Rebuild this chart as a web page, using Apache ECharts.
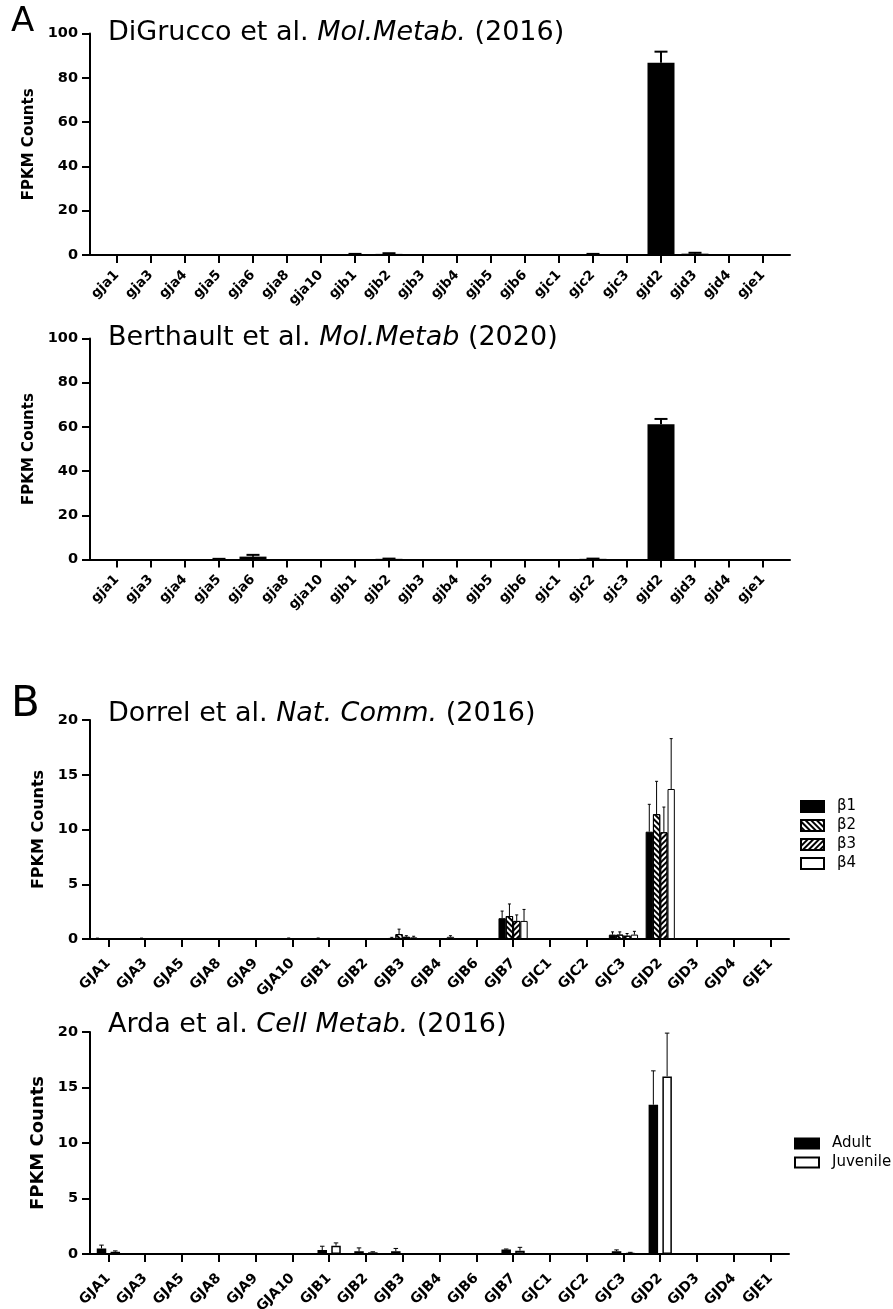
<!DOCTYPE html>
<html>
<head>
<meta charset="utf-8">
<script src="https://cdn.jsdelivr.net/npm/echarts@6/dist/echarts.min.js"></script>
<style>
  html, body { margin: 0; padding: 0; background: #fff; }
  #chart { width: 893px; height: 1309px; }
</style>
</head>
<body>
<div id="chart"></div>
<script>
// gene names
var genesA = ['gja1', 'gja3', 'gja4', 'gja5', 'gja6', 'gja8', 'gja10', 'gjb1', 'gjb2', 'gjb3', 'gjb4', 'gjb5', 'gjb6', 'gjc1', 'gjc2', 'gjc3', 'gjd2', 'gjd3', 'gjd4', 'gje1']
var genesB = ['GJA1', 'GJA3', 'GJA5', 'GJA8', 'GJA9', 'GJA10', 'GJB1', 'GJB2', 'GJB3', 'GJB4', 'GJB6', 'GJB7', 'GJC1', 'GJC2', 'GJC3', 'GJD2', 'GJD3', 'GJD4', 'GJE1']

// A - DiGrucco / Berthault (mean, sem)
var digrucco = [0, 0, 0, 0, 0, 0, 0, 0.3, 0.5, 0, 0, 0, 0, 0, 0.3, 0, 86.8, 0.6, 0, 0]
var digruccoErr = [0, 0, 0, 0, 0, 0, 0, 0.2, 0.3, 0, 0, 0, 0, 0, 0.2, 0, 5.0, 0.4, 0, 0]
var berthault = [0, 0, 0, 0.2, 1.3, 0, 0, 0, 0.3, 0, 0, 0, 0, 0, 0.3, 0, 61.2, 0, 0, 0]
var berthaultErr = [0, 0, 0, 0.1, 0.8, 0, 0, 0, 0.1, 0, 0, 0, 0, 0, 0.1, 0, 2.4, 0, 0, 0]

// B - Dorrel beta subtypes
var beta1 = [0.05, 0.03, 0, 0, 0, 0.05, 0.06, 0, 0.1, 0, 0, 1.9, 0, 0.05, 0.4, 9.8, 0, 0, 0.03]
var beta1Err = [0.03, 0, 0, 0, 0, 0, 0.03, 0, 0.05, 0, 0, 0.65, 0, 0, 0.25, 2.5, 0, 0, 0]
var beta2 = [0.06, 0.05, 0, 0, 0, 0.06, 0.06, 0.05, 0.45, 0, 0, 2.1, 0.05, 0.05, 0.4, 11.4, 0, 0, 0]
var beta2Err = [0, 0.03, 0, 0, 0, 0.03, 0, 0, 0.45, 0, 0, 1.1, 0, 0, 0.25, 3.0, 0, 0, 0]
var beta3 = [0, 0, 0, 0, 0, 0.05, 0, 0, 0.2, 0.05, 0, 1.65, 0, 0, 0.3, 9.75, 0, 0, 0]
var beta3Err = [0, 0, 0, 0, 0, 0, 0, 0, 0.1, 0, 0, 0.55, 0, 0, 0.2, 2.3, 0, 0, 0]
var beta4 = [0, 0, 0, 0, 0, 0.04, 0, 0, 0.15, 0.2, 0, 1.65, 0, 0.05, 0.4, 13.7, 0, 0, 0]
var beta4Err = [0, 0, 0, 0, 0, 0, 0, 0, 0.1, 0.1, 0, 1.05, 0, 0, 0.3, 4.6, 0, 0, 0]

// B - Arda adult / juvenile
var adult = [0.5, 0.03, 0.03, 0, 0, 0.05, 0.35, 0.25, 0.25, 0, 0, 0.4, 0.05, 0, 0.25, 13.45, 0, 0, 0]
var adultErr = [0.3, 0, 0, 0, 0, 0, 0.35, 0.3, 0.25, 0, 0, 0.05, 0, 0, 0.12, 3.05, 0, 0, 0]
var juvenile = [0.2, 0.05, 0, 0.03, 0, 0.05, 0.75, 0.15, 0, 0, 0.05, 0.3, 0.05, 0.05, 0.1, 16.0, 0, 0, 0.05]
var juvenileErr = [0.08, 0, 0, 0, 0, 0, 0.25, 0.05, 0, 0, 0, 0.3, 0, 0, 0.05, 3.9, 0, 0, 0]

var FONT = 'DejaVu Sans'

// panel layout: frame grid holds the y axis + x axis line, bar grid holds the categories
var panels = [
  { top: 33.5, height: 221.5, left: 90, width: 700, barLeft: 100, barWidth: 680, max: 100, interval: 20, cats: genesA, labelSize: 13.5, labelMargin: 18, nameSize: 15, nameGap: 50 },
  { top: 338.5, height: 221, left: 90, width: 700, barLeft: 100, barWidth: 680, max: 100, interval: 20, cats: genesA, labelSize: 13.5, labelMargin: 18, nameSize: 15, nameGap: 50 },
  { top: 720, height: 219, left: 90, width: 699, barLeft: 90, barWidth: 699, max: 20, interval: 5, cats: genesB, labelSize: 14, labelMargin: 22, nameSize: 16, nameGap: 41 },
  { top: 1032, height: 222, left: 90, width: 699, barLeft: 90, barWidth: 699, max: 20, interval: 5, cats: genesB, labelSize: 14, labelMargin: 22, nameSize: 18, nameGap: 41 }
]

var grids = []
var xAxes = []
var yAxes = []
panels.forEach(function (p, i) {
  grids.push({ left: p.left, top: p.top, width: p.width, height: p.height, outerBoundsMode: 'none' })
  grids.push({ left: p.barLeft, top: p.top, width: p.barWidth, height: p.height, outerBoundsMode: 'none' })
  xAxes.push({
    gridIndex: 2 * i, type: 'value', min: 0, max: 1,
    axisLine: { show: true, lineStyle: { color: '#000', width: 2 } },
    axisTick: { show: false }, axisLabel: { show: false }, splitLine: { show: false }
  })
  xAxes.push({
    gridIndex: 2 * i + 1, type: 'category', data: p.cats,
    axisLine: { show: false },
    axisTick: { show: true, alignWithLabel: true, length: 8, lineStyle: { color: '#000', width: 2 } },
    axisLabel: { interval: 0, rotate: 45, margin: p.labelMargin, color: '#000', fontWeight: 'bold', fontFamily: FONT, fontSize: p.labelSize }
  })
  yAxes.push({
    gridIndex: 2 * i, type: 'value', min: 0, max: p.max, interval: p.interval,
    name: 'FPKM Counts', nameLocation: 'middle', nameRotate: 90, nameGap: p.nameGap,
    nameTextStyle: { color: '#000', fontWeight: 'bold', fontFamily: FONT, fontSize: p.nameSize },
    axisLine: { show: true, lineStyle: { color: '#000', width: 2 } },
    axisTick: { show: true, length: 8, lineStyle: { color: '#000', width: 2 } },
    axisLabel: { margin: 12, color: '#000', fontWeight: 'bold', fontFamily: FONT, fontSize: 14.5 },
    splitLine: { show: false }
  })
  yAxes.push({ gridIndex: 2 * i + 1, type: 'value', min: 0, max: p.max, show: false })
})

// error bar drawn above bar k of n in a group
function errRender (barW, gap, k, n, capW, lw) {
  return function (params, api) {
    var err = api.value(2)
    if (!err) return
    var x = api.value(0)
    var v = api.value(1)
    var p0 = api.coord([x, v])
    var p1 = api.coord([x, v + err])
    var cx = p0[0] + (k - (n - 1) / 2) * barW * (1 + gap)
    var st = { stroke: '#000', lineWidth: lw }
    return {
      type: 'group',
      children: [
        { type: 'line', shape: { x1: cx, y1: p0[1], x2: cx, y2: p1[1] }, style: st },
        { type: 'line', shape: { x1: cx - capW / 2, y1: p1[1], x2: cx + capW / 2, y2: p1[1] }, style: st }
      ]
    }
  }
}

function errData (vals, errs) {
  return vals.map(function (v, i) { return [i, v, errs[i]] })
}

var series = []
function addBars (panelIdx, name, vals, errs, style, barW, gap, k, n, capW, lw) {
  series.push({
    name: name, type: 'bar', xAxisIndex: 2 * panelIdx + 1, yAxisIndex: 2 * panelIdx + 1,
    data: vals, barWidth: barW, barGap: (gap * 100) + '%',
    itemStyle: style, emphasis: { disabled: true }, silent: true
  })
  series.push({
    name: name + ' err', type: 'custom', xAxisIndex: 2 * panelIdx + 1, yAxisIndex: 2 * panelIdx + 1,
    data: errData(vals, errs), renderItem: errRender(barW, gap, k, n, capW, lw), z: 5, silent: true
  })
}

var stripeDown = { symbol: 'rect', symbolSize: 1, rotation: Math.PI / 4, dashArrayX: [[1, 0]], dashArrayY: [2, 2], color: '#000' }
var stripeUp = { symbol: 'rect', symbolSize: 1, rotation: -Math.PI / 4, dashArrayX: [[1, 0]], dashArrayY: [2, 2], color: '#000' }

addBars(0, 'DiGrucco', digrucco, digruccoErr, { color: '#000' }, 27, 0, 0, 1, 13, 2)
addBars(1, 'Berthault', berthault, berthaultErr, { color: '#000' }, 27, 0, 0, 1, 13, 2)

var bStyle = { borderColor: '#000', borderWidth: 1 }
addBars(2, 'β1', beta1, beta1Err, Object.assign({ color: '#000' }, bStyle), 7.3, 0, 0, 4, 3, 1)
addBars(2, 'β2', beta2, beta2Err, Object.assign({ color: '#fff', decal: stripeDown }, bStyle), 7.3, 0, 1, 4, 3, 1)
addBars(2, 'β3', beta3, beta3Err, Object.assign({ color: '#fff', decal: stripeUp }, bStyle), 7.3, 0, 2, 4, 3, 1)
addBars(2, 'β4', beta4, beta4Err, Object.assign({ color: '#fff' }, bStyle), 7.3, 0, 3, 4, 3, 1)

addBars(3, 'Adult', adult, adultErr, { color: '#000', borderColor: '#000', borderWidth: 1.5 }, 9.5, 0.45, 0, 2, 4.5, 1)
addBars(3, 'Juvenile', juvenile, juvenileErr, { color: '#fff', borderColor: '#000', borderWidth: 1.5 }, 9.5, 0.45, 1, 2, 4.5, 1)

var titleRich = {
  n: { fontFamily: FONT, fontSize: 27, fontWeight: 'normal', color: '#000' },
  i: { fontFamily: FONT, fontSize: 27, fontWeight: 'normal', fontStyle: 'italic', color: '#000' }
}
function panelTitle (left, top, author, journal, year) {
  return {
    left: left, top: top, padding: 0,
    text: '{n|' + author + ' }{i|' + journal + '}{n| (' + year + ')}',
    textStyle: { fontWeight: 'normal', rich: titleRich }
  }
}

var titles = [
  { left: 11, top: 5, padding: 0, text: 'A', textStyle: { fontFamily: FONT, fontSize: 34, fontWeight: 'normal', color: '#000' } },
  { left: 11, top: 684, padding: 0, text: 'B', textStyle: { fontFamily: FONT, fontSize: 42, fontWeight: 'normal', color: '#000' } },
  panelTitle(108, 19, 'DiGrucco et al.', 'Mol.Metab.', 2016),
  panelTitle(108, 324, 'Berthault et al.', 'Mol.Metab', 2020),
  panelTitle(108, 700, 'Dorrel et al.', 'Nat. Comm.', 2016),
  panelTitle(108, 1011, 'Arda et al.', 'Cell Metab.', 2016)
]

var legendText = { fontFamily: FONT, fontSize: 15, color: '#000', padding: [0, 0, 0, 8] }

var chart = echarts.init(document.getElementById('chart'), null, { renderer: 'canvas' })
chart.setOption({
  backgroundColor: '#fff',
  animation: false,
  title: titles,
  grid: grids,
  xAxis: xAxes,
  yAxis: yAxes,
  legend: [
    {
      left: 795, top: 794, orient: 'vertical', itemWidth: 23, itemHeight: 11, itemGap: 4,
      textStyle: legendText, selectedMode: false,
      data: [
        { name: 'β1', icon: 'rect', itemStyle: { color: '#000', borderColor: '#000', borderWidth: 2 } },
        { name: 'β2', icon: 'rect', itemStyle: { color: '#fff', borderColor: '#000', borderWidth: 2 } },
        { name: 'β3', icon: 'rect', itemStyle: { color: '#fff', borderColor: '#000', borderWidth: 2 } },
        { name: 'β4', icon: 'rect', itemStyle: { color: '#fff', borderColor: '#000', borderWidth: 2 } }
      ]
    },
    {
      left: 789, top: 1131, orient: 'vertical', itemWidth: 24, itemHeight: 10, itemGap: 4,
      textStyle: legendText, selectedMode: false,
      data: [
        { name: 'Adult', icon: 'rect', itemStyle: { color: '#000', borderColor: '#000', borderWidth: 2 } },
        { name: 'Juvenile', icon: 'rect', itemStyle: { color: '#fff', borderColor: '#000', borderWidth: 2 } }
      ]
    }
  ],
  series: series
})
</script>
</body>
</html>
